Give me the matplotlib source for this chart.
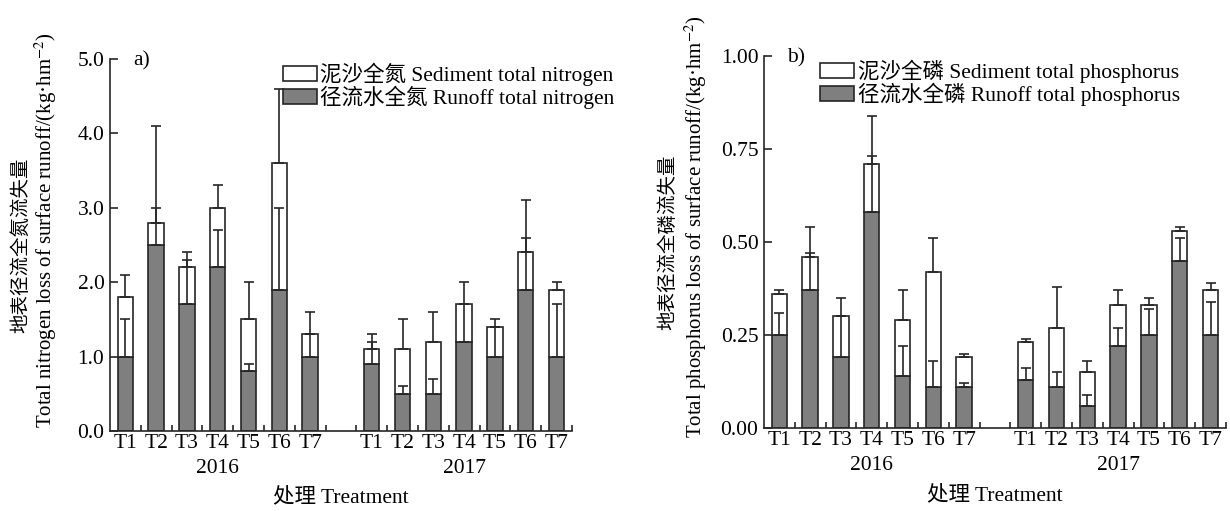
import numpy as np
import matplotlib
matplotlib.use("Agg")
import matplotlib.pyplot as plt
from matplotlib.patches import Patch
from matplotlib.ticker import FixedLocator


# -----------------------------
# Data
# -----------------------------
treatments = ["T1", "T2", "T3", "T4", "T5", "T6", "T7"]
years = ["2016", "2017"]

# nitrogen, kg/hm2 : 2016 T1..T7 then 2017 T1..T7
runoff_n = [1.0, 2.5, 1.7, 2.2, 0.8, 1.9, 1.0,
            0.9, 0.5, 0.5, 1.2, 1.0, 1.9, 1.0]
total_n = [1.8, 2.8, 2.2, 3.0, 1.5, 3.6, 1.3,
           1.1, 1.1, 1.2, 1.7, 1.4, 2.4, 1.9]
runoff_n_sd = [0.5, 0.5, 0.6, 0.5, 0.1, 1.1, 0.3,
               0.3, 0.1, 0.2, 0.5, 0.4, 0.7, 0.7]
total_n_sd = [0.3, 1.3, 0.2, 0.3, 0.5, 1.0, 0.3,
              0.2, 0.4, 0.4, 0.3, 0.1, 0.7, 0.1]

# phosphorus, kg/hm2
runoff_p = [0.25, 0.37, 0.19, 0.58, 0.14, 0.11, 0.11,
            0.13, 0.11, 0.06, 0.22, 0.25, 0.45, 0.25]
total_p = [0.36, 0.46, 0.30, 0.71, 0.29, 0.42, 0.19,
           0.23, 0.27, 0.15, 0.33, 0.33, 0.53, 0.37]
runoff_p_sd = [0.06, 0.10, 0.11, 0.15, 0.08, 0.07, 0.01,
               0.03, 0.04, 0.03, 0.05, 0.07, 0.06, 0.09]
total_p_sd = [0.01, 0.08, 0.05, 0.13, 0.08, 0.09, 0.01,
              0.01, 0.11, 0.03, 0.04, 0.02, 0.01, 0.02]

n_ticks = ["0.0", "1.0", "2.0", "3.0", "4.0", "5.0"]
p_ticks = ["0.00", "0.25", "0.50", "0.75", "1.00"]


plt.rcParams["font.family"] = ["Liberation Serif", "Noto Sans CJK SC"]
plt.rcParams["mathtext.fontset"] = "stix"

GRAY = "#7f7f7f"
EDGE = "#262626"
FS = 15.5


# -----------------------------
# One panel
# -----------------------------
def draw_panel(ax, runoff, total, runoff_sd, total_sd, ticks, ymax,
               tag, ylab_cn, ylab_en, cn_x, en_x):

    nt = len(treatments)
    x = np.concatenate([np.arange(1, nt + 1), np.arange(nt + 2, 2 * nt + 2)])

    runoff = np.array(runoff)
    total = np.array(total)
    sediment = total - runoff

    ax.bar(x, runoff, width=0.5, color=GRAY, edgecolor=EDGE, linewidth=1.2, zorder=2)
    ax.bar(x, sediment, width=0.5, bottom=runoff, color="white",
           edgecolor=EDGE, linewidth=1.2, zorder=2)

    zero = np.zeros(len(x))
    ax.errorbar(x, runoff, yerr=[zero, runoff_sd], fmt="none", ecolor=EDGE,
                elinewidth=1.2, capsize=3.3, capthick=1.2, zorder=3)
    ax.errorbar(x, total, yerr=[zero, total_sd], fmt="none", ecolor=EDGE,
                elinewidth=1.2, capsize=3.3, capthick=1.2, zorder=3)

    ax.set_xlim(0.5, 2 * nt + 1.5)
    ax.set_ylim(0, ymax)

    ax.spines["top"].set_visible(False)
    ax.spines["right"].set_visible(False)
    for s in ["left", "bottom"]:
        ax.spines[s].set_linewidth(1.2)
        ax.spines[s].set_color(EDGE)

    ax.set_xticks(x)
    ax.set_xticklabels(treatments * 2, fontsize=FS)
    ax.xaxis.set_minor_locator(FixedLocator(np.arange(1.5, 2 * nt + 2, 1.0)))
    ax.tick_params(axis="x", which="major", length=0, pad=2)
    ax.tick_params(axis="x", which="minor", direction="in", length=4, width=1.2, color=EDGE)

    ax.set_yticks([float(t) for t in ticks])
    ax.set_yticklabels(ticks, fontsize=FS)
    ax.tick_params(axis="y", direction="in", length=6, width=1.2, color=EDGE, pad=4)

    # year labels under each group
    ax.text((1 + nt) / 2, -0.1, years[0], transform=ax.get_xaxis_transform(),
            ha="center", va="center", fontsize=FS)
    ax.text((nt + 2 + 2 * nt + 1) / 2, -0.1, years[1], transform=ax.get_xaxis_transform(),
            ha="center", va="center", fontsize=FS)
    ax.text(0.5, -0.18, "处理 Treatment", transform=ax.transAxes,
            ha="center", va="center", fontsize=FS)

    ax.text(0.05, 0.995, tag, transform=ax.transAxes, ha="left", va="center", fontsize=FS)

    # two-line y label
    ax.text(cn_x, 0.5, ylab_cn, transform=ax.transAxes, rotation=90,
            ha="center", va="center", fontsize=14)
    ax.text(en_x, 0.54, ylab_en, transform=ax.transAxes, rotation=90,
            ha="center", va="center", fontsize=15)

    handles = [Patch(facecolor="white", edgecolor=EDGE, linewidth=1.2),
               Patch(facecolor=GRAY, edgecolor=EDGE, linewidth=1.2)]
    return handles


# -----------------------------
# Main Program
# -----------------------------
def main():

    fig = plt.figure(figsize=(12.3, 5.11), dpi=100)
    ax1 = fig.add_axes([0.0894, 0.1566, 0.3756, 0.728])
    ax2 = fig.add_axes([0.6211, 0.1624, 0.3756, 0.728])

    h1 = draw_panel(ax1, runoff_n, total_n, runoff_n_sd, total_n_sd, n_ticks, 5.0,
                    "a)", "地表径流全氮流失量",
                    r"Total nitrogen loss of surface runoff/(kg·hm$^{-2}$)",
                    -0.192, -0.138)
    ax1.legend(h1, ["泥沙全氮 Sediment total nitrogen", "径流水全氮 Runoff total nitrogen"],
               loc="upper left", bbox_to_anchor=(0.374, 0.99), frameon=False,
               fontsize=FS, borderpad=0, borderaxespad=0, handlelength=1.6,
               handleheight=0.7, labelspacing=0.0, handletextpad=0.15)

    h2 = draw_panel(ax2, runoff_p, total_p, runoff_p_sd, total_p_sd, p_ticks, 1.0,
                    "b)", "地表径流全磷流失量",
                    r"Total phosphorus loss of surface runoff/(kg·hm$^{-2}$)",
                    -0.207, -0.147)
    ax2.legend(h2, ["泥沙全磷 Sediment total phosphorus", "径流水全磷 Runoff total phosphorus"],
               loc="upper left", bbox_to_anchor=(0.121, 0.99), frameon=False,
               fontsize=FS, borderpad=0, borderaxespad=0, handlelength=1.6,
               handleheight=0.7, labelspacing=0.0, handletextpad=0.15)

    fig.savefig("out.png", dpi=100)


if __name__ == "__main__":
    main()
